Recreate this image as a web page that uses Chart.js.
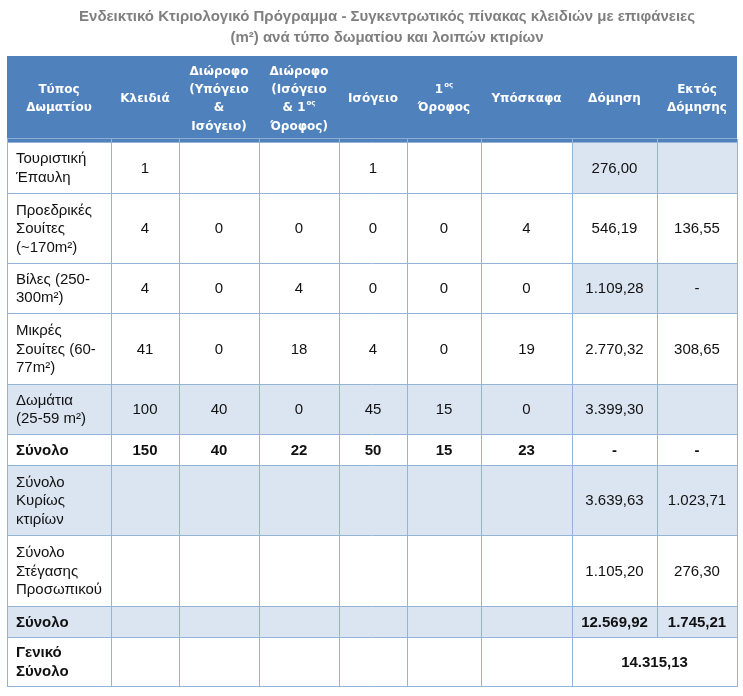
<!DOCTYPE html>
<html lang="el">
<head>
    <meta charset="UTF-8">
    <title>Ενδεικτικό Κτιριολογικό Πρόγραμμα</title>
    <script src="https://cdn.jsdelivr.net/npm/chart.js@4.4.1/dist/chart.umd.min.js"></script>
    <style>
        body {
            margin: 0;
            background: #ffffff;
        }
        canvas {
            display: block;
        }
    </style>
</head>
<body>
    <canvas id="table-chart" width="743" height="696"></canvas>

    <script>
        // Data
        const titleLines = [
            'Ενδεικτικό Κτιριολογικό Πρόγραμμα - Συγκεντρωτικός πίνακας κλειδιών με επιφάνειες',
            '(m²) ανά τύπο δωματίου και λοιπών κτιρίων'
        ];
        const columnHeaders = [
            ['Τύπος', 'Δωματίου'],
            ['Κλειδιά'],
            ['Διώροφο', '(Υπόγειο', '&', 'Ισόγειο)'],
            ['Διώροφο', '(Ισόγειο', '& 1^ος', 'Όροφος)'],
            ['Ισόγειο'],
            ['1^ος', 'Όροφος'],
            ['Υπόσκαφα'],
            ['Δόμηση'],
            ['Εκτός', 'Δόμησης']
        ];
        const roomTypes = [
            ['Τουριστική', 'Έπαυλη'],
            ['Προεδρικές', 'Σουίτες', '(~170m²)'],
            ['Βίλες (250-', '300m²)'],
            ['Μικρές', 'Σουίτες (60-', '77m²)'],
            ['Δωμάτια', '(25-59 m²)'],
            ['Σύνολο'],
            ['Σύνολο', 'Κυρίως', 'κτιρίων'],
            ['Σύνολο', 'Στέγασης', 'Προσωπικού'],
            ['Σύνολο'],
            ['Γενικό', 'Σύνολο']
        ];
        const keyCounts            = [1, 4, 4, 41, 100, 150, null, null, null, null];
        const duplexBasementGround = [null, 0, 0, 0, 40, 40, null, null, null, null];
        const duplexGroundFirst    = [null, 0, 4, 18, 0, 22, null, null, null, null];
        const groundFloor          = [1, 0, 0, 4, 45, 50, null, null, null, null];
        const firstFloor           = [null, 0, 0, 0, 15, 15, null, null, null, null];
        const cavehouses           = [null, 4, 0, 19, 0, 23, null, null, null, null];
        const builtArea   = [276.00, 546.19, 1109.28, 2770.32, 3399.30, '-', 3639.63, 1105.20, 12569.92, null];
        const outsideArea = [null, 136.55, '-', 308.65, null, '-', 1023.71, 276.30, 1745.21, null];
        const grandTotal = 14315.13;

        // Layout / style
        const colWidths = [104, 68, 80, 80, 68, 74, 91, 85, 80];
        const rowHeights = [86, 51, 70, 50, 71, 50, 31, 70, 71, 31, 49]; // header first
        const shadedRows = [4, 6, 8];
        const shadedCells = [[0, 7], [0, 8], [2, 7], [2, 8]];
        const boldRows = [5, 8, 9];
        const headerBlue = '#4f81bd';
        const shadeBlue = '#dbe5f1';
        const gridBlue = '#95b3d7';
        const bodyFont = '"Liberation Sans", Arial, sans-serif';
        const headFont = '"DejaVu Sans", Verdana, sans-serif';

        const valueColumns = [keyCounts, duplexBasementGround, duplexGroundFirst, groundFloor,
                              firstFloor, cavehouses, builtArea, outsideArea];

        function edges(sizes) {
            const out = [0];
            sizes.forEach(s => out.push(out[out.length - 1] + s));
            return out;
        }

        // 1109.28 -> "1.109,28"
        function formatGreek(v, decimals) {
            if (v === null || v === undefined) return '';
            if (v === '-') return '-';
            const parts = v.toFixed(decimals).split('.');
            const intPart = parts[0].replace(/\B(?=(\d{3})+(?!\d))/g, '.');
            return parts.length > 1 ? intPart + ',' + parts[1] : intPart;
        }

        // text with an optional superscript part after '^'
        function drawRich(ctx, text, x, y, align, size, weight, family) {
            const [base, sup] = text.split('^');
            ctx.font = `${weight} ${size}px ${family}`;
            const wBase = ctx.measureText(base).width;
            let wSup = 0;
            if (sup) {
                ctx.font = `${weight} ${Math.round(size * 0.62)}px ${family}`;
                wSup = ctx.measureText(sup).width + 1;
            }
            let start = x;
            if (align === 'center') start = x - (wBase + wSup) / 2;
            ctx.textAlign = 'left';
            ctx.textBaseline = 'middle';
            ctx.font = `${weight} ${size}px ${family}`;
            ctx.fillText(base, start, y);
            if (sup) {
                ctx.font = `${weight} ${Math.round(size * 0.62)}px ${family}`;
                ctx.fillText(sup, start + wBase + 1, y - size * 0.38);
            }
        }

        function drawLines(ctx, lines, x, yc, lh, align, size, weight, family) {
            const n = lines.length;
            lines.forEach((ln, i) => {
                drawRich(ctx, ln, x, yc + (i - (n - 1) / 2) * lh, align, size, weight, family);
            });
        }

        const tablePlugin = {
            id: 'cellTable',
            afterDraw(chart) {
                const ctx = chart.ctx;
                const xs = chart.scales.x;
                const ys = chart.scales.y;
                const colX = edges(colWidths).map(v => Math.round(xs.getPixelForValue(v)));
                const rowY = edges(rowHeights).map(v => Math.round(ys.getPixelForValue(v)));
                const left = colX[0], right = colX[colX.length - 1];
                const top = rowY[0], bottom = rowY[rowY.length - 1];
                const nCols = colWidths.length;

                ctx.save();

                // title
                ctx.fillStyle = '#7f7f7f';
                ctx.font = `bold 15px ${bodyFont}`;
                ctx.textAlign = 'center';
                ctx.textBaseline = 'middle';
                const titleX = (left + right) / 2 + 15;
                titleLines.forEach((t, i) => ctx.fillText(t, titleX, 17 + i * 21));

                // fills
                ctx.fillStyle = headerBlue;
                ctx.fillRect(left, top, right - left, rowY[1] - top);
                ctx.fillStyle = shadeBlue;
                shadedRows.forEach(r => {
                    ctx.fillRect(left, rowY[r + 1], right - left, rowY[r + 2] - rowY[r + 1]);
                });
                shadedCells.forEach(([r, c]) => {
                    ctx.fillRect(colX[c], rowY[r + 1], colX[c + 1] - colX[c], rowY[r + 2] - rowY[r + 1]);
                });

                // grid
                ctx.strokeStyle = 'rgba(255,255,255,0.35)';
                ctx.lineWidth = 1;
                ctx.beginPath();
                ctx.moveTo(left, rowY[1] - 3.5);
                ctx.lineTo(right, rowY[1] - 3.5);
                ctx.stroke();

                ctx.strokeStyle = gridBlue;
                ctx.beginPath();
                for (let r = 1; r < rowY.length; r++) {
                    ctx.moveTo(left, rowY[r] + 0.5);
                    ctx.lineTo(right + 1, rowY[r] + 0.5);
                }
                const lastTop = rowY[rowY.length - 2];
                for (let c = 0; c <= nCols; c++) {
                    ctx.moveTo(colX[c] + 0.5, rowY[1] - 3);
                    // merged cell in the last row
                    ctx.lineTo(colX[c] + 0.5, c === nCols - 1 ? lastTop : bottom + 1);
                }
                ctx.stroke();

                // header text
                ctx.fillStyle = '#ffffff';
                columnHeaders.forEach((lines, c) => {
                    const cx = (colX[c] + colX[c + 1]) / 2;
                    const cy = (rowY[0] + rowY[1]) / 2;
                    drawLines(ctx, lines, cx, cy, 18.3, 'center', 12, 'bold', headFont);
                });

                // body
                ctx.fillStyle = '#111111';
                roomTypes.forEach((lines, r) => {
                    const y0 = rowY[r + 1], y1 = rowY[r + 2];
                    const cy = (y0 + y1) / 2 + 1;
                    const weight = boldRows.includes(r) ? 'bold' : 'normal';
                    drawLines(ctx, lines, colX[0] + 9, cy, 18.5, 'left', 15, weight, bodyFont);
                    valueColumns.forEach((series, i) => {
                        const c = i + 1;
                        const txt = formatGreek(series[r], c >= 7 ? 2 : 0);
                        if (!txt) return;
                        drawRich(ctx, txt, (colX[c] + colX[c + 1]) / 2, cy, 'center', 15, weight, bodyFont);
                    });
                });
                const lastRow = roomTypes.length - 1;
                drawRich(ctx, formatGreek(grandTotal, 2), (colX[7] + colX[9]) / 2,
                    (rowY[lastRow + 1] + rowY[lastRow + 2]) / 2 + 1, 'center', 15, 'bold', bodyFont);

                ctx.restore();
            }
        };

        const totalW = colWidths.reduce((a, b) => a + b, 0);
        const totalH = rowHeights.reduce((a, b) => a + b, 0);

        new Chart(document.getElementById('table-chart'), {
            type: 'scatter',
            data: { datasets: [{ data: [] }] },
            options: {
                responsive: false,
                animation: false,
                layout: { padding: { left: 7, right: 6, top: 56, bottom: 10 } },
                plugins: {
                    legend: { display: false },
                    tooltip: { enabled: false },
                    title: { display: false }
                },
                scales: {
                    x: { type: 'linear', min: 0, max: totalW, display: false },
                    y: { type: 'linear', min: 0, max: totalH, reverse: true, display: false }
                }
            },
            plugins: [tablePlugin]
        });
    </script>
</body>
</html>
